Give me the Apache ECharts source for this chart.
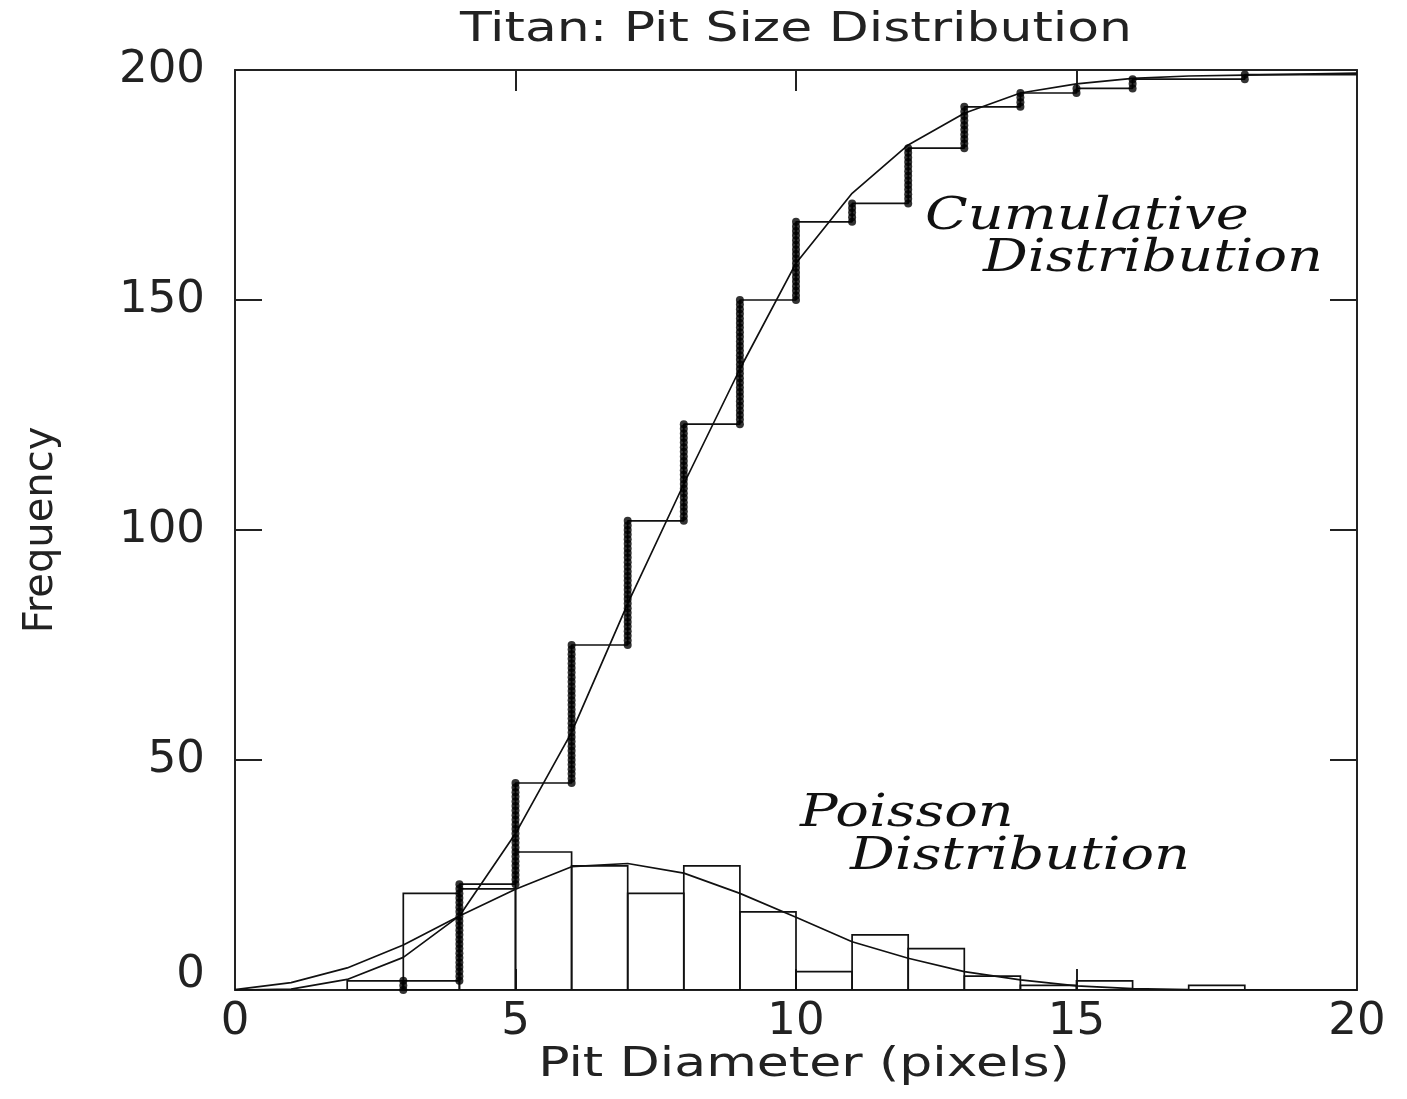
<!DOCTYPE html>
<html>
<head>
<meta charset="utf-8">
<script src="https://cdn.jsdelivr.net/npm/echarts@6/dist/echarts.min.js"></script>
<style>
html,body{margin:0;padding:0;background:#fff;}
#chart{width:1407px;height:1099px;}
</style>
</head>
<body>
<div id="chart"></div>
<script>
// ---- data ----
const titleText = 'Titan: Pit Size Distribution';
const xAxisName = 'Pit Diameter (pixels)';
const yAxisName = 'Frequency';
const xTicks = [0, 5, 10, 15, 20];
const yTicks = [0, 50, 100, 150, 200];

// histogram bins (left edge, width 1) and counts
const binLeft = [2, 3, 4, 5, 6, 7, 8, 9, 10, 11, 12, 13, 14, 15, 16, 17];
const binCount = [2, 21, 22, 30, 27, 21, 27, 17, 4, 12, 9, 3, 1, 2, 0, 1];

// fitted curves sampled at integer diameters 0..20
const curveX = [0, 1, 2, 3, 4, 5, 6, 7, 8, 9, 10, 11, 12, 13, 14, 15, 16, 17, 18, 19, 20];
const poissonFit = [0.1, 1.6, 4.8, 9.8, 16.1, 21.9, 26.8, 27.5, 25.4, 21.0, 15.8, 10.5, 6.9, 4.0, 2.2, 0.9, 0.3, 0.1, 0.05, 0, 0];
const cumulativeFit = [0, 0.2, 2.3, 7.1, 16.1, 34, 56, 84, 110, 135, 158, 173.2, 183.7, 190.6, 195, 197, 198.2, 198.7, 198.9, 199.1, 199.3];

const labelCumulative = ['Cumulative', 'Distribution'];
const labelPoisson = ['Poisson', 'Distribution'];

// ---- derived series data ----
const histData = binLeft.map((l, i) => [l, l + 1, binCount[i]]);
const stepLine = [];
const dots = [];
let cum = 0;
binLeft.forEach((l, i) => {
  const k = l + 1;
  const next = cum + binCount[i];
  stepLine.push([k, cum]);
  stepLine.push([k, next]);
  if (binCount[i] > 0) {
    for (let j = cum; j <= next; j++) dots.push([k, j]);
  }
  cum = next;
});
stepLine.push([curveX[curveX.length - 1], cum]);
const poissonData = curveX.map((x, i) => [x, poissonFit[i]]);
const cumFitData = curveX.map((x, i) => [x, cumulativeFit[i]]);

const INK = '#111';
const TXT = '#222';
const FONT = "'DejaVu Sans', sans-serif";
const SERIF = "'DejaVu Serif', serif";

const chart = echarts.init(document.getElementById('chart'), null, {renderer: 'canvas'});

const axisLine = {show: true, onZero: false, lineStyle: {color: '#222', width: 2}};

function serifLabel(text, x, y) {
  return {type: 'text', x: x, y: y, scaleX: 1.27, z: 10,
          style: {text: text, font: 'italic 44px ' + SERIF, fill: '#111',
                  textAlign: 'left', textVerticalAlign: 'top'}};
}

const option = {
  animation: false,
  backgroundColor: '#fff',
  grid: {left: 235, right: 50, top: 70, bottom: 109, containLabel: false},
  xAxis: [{
    type: 'value', min: xTicks[0], max: xTicks[xTicks.length - 1], interval: 5,
    axisLine: axisLine,
    axisTick: {show: true, inside: true, length: 21, lineStyle: {color: '#222', width: 2}},
    axisLabel: {fontFamily: FONT, fontSize: 45, color: TXT, margin: 10},
    splitLine: {show: false}
  }, {
    type: 'value', position: 'top', min: xTicks[0], max: xTicks[xTicks.length - 1], interval: 5,
    axisLine: axisLine,
    axisTick: {show: true, inside: true, length: 21, lineStyle: {color: '#222', width: 2}},
    axisLabel: {show: false}, splitLine: {show: false}
  }],
  yAxis: [{
    type: 'value', min: yTicks[0], max: yTicks[yTicks.length - 1], interval: 50,
    name: yAxisName, nameLocation: 'middle', nameGap: 173, nameRotate: 90,
    nameTextStyle: {fontFamily: FONT, fontSize: 40, color: TXT},
    axisLine: axisLine,
    axisTick: {show: true, inside: true, length: 27, lineStyle: {color: '#222', width: 2}},
    axisLabel: {
      fontFamily: FONT, fontSize: 45, color: TXT, margin: 30,
      formatter: v => v === 0 ? '{z|0}' : String(v),
      rich: {z: {fontFamily: FONT, fontSize: 45, color: TXT, padding: [0, 0, 30, 0]}}
    },
    splitLine: {show: false}
  }, {
    type: 'value', position: 'right', min: yTicks[0], max: yTicks[yTicks.length - 1], interval: 50,
    axisLine: axisLine,
    axisTick: {show: true, inside: true, length: 27, lineStyle: {color: '#222', width: 2}},
    axisLabel: {show: false}, splitLine: {show: false}
  }],
  series: [
    {
      name: 'histogram', type: 'custom', xAxisIndex: 0, yAxisIndex: 0,
      data: histData, clip: true,
      renderItem: function (params, api) {
        const p0 = api.coord([api.value(0), api.value(2)]);
        const p1 = api.coord([api.value(1), 0]);
        return {
          type: 'rect',
          shape: {x: p0[0], y: p0[1], width: p1[0] - p0[0], height: p1[1] - p0[1]},
          style: {fill: 'none', stroke: INK, lineWidth: 1.7}
        };
      }
    },
    {
      name: 'poisson', type: 'line', data: poissonData, showSymbol: false, symbol: 'none',
      lineStyle: {color: INK, width: 1.7}, z: 3
    },
    {
      name: 'cumulative fit', type: 'line', data: cumFitData, showSymbol: false, symbol: 'none',
      lineStyle: {color: INK, width: 1.7}, z: 3
    },
    {
      name: 'cumulative steps', type: 'line', data: stepLine, showSymbol: false, symbol: 'none',
      lineStyle: {color: INK, width: 1.7}, z: 3
    },
    {
      name: 'cumulative dots', type: 'scatter', data: dots, symbol: 'circle', symbolSize: 8,
      itemStyle: {color: '#000'}, z: 4
    }
  ],
  graphic: [
    {type: 'text', x: 796, y: 11, scaleX: 1.3, z: 10,
     style: {text: titleText, font: '40px ' + FONT, fill: TXT, textAlign: 'center', textVerticalAlign: 'top'}},
    {type: 'text', x: 804, y: 1046, scaleX: 1.3, z: 10,
     style: {text: xAxisName, font: '40px ' + FONT, fill: TXT, textAlign: 'center', textVerticalAlign: 'top'}},
    serifLabel(labelCumulative[0], 925, 196),
    serifLabel(labelCumulative[1], 983, 238),
    serifLabel(labelPoisson[0], 800, 793),
    serifLabel(labelPoisson[1], 850, 836)
  ]
};
chart.setOption(option);
</script>
</body>
</html>
